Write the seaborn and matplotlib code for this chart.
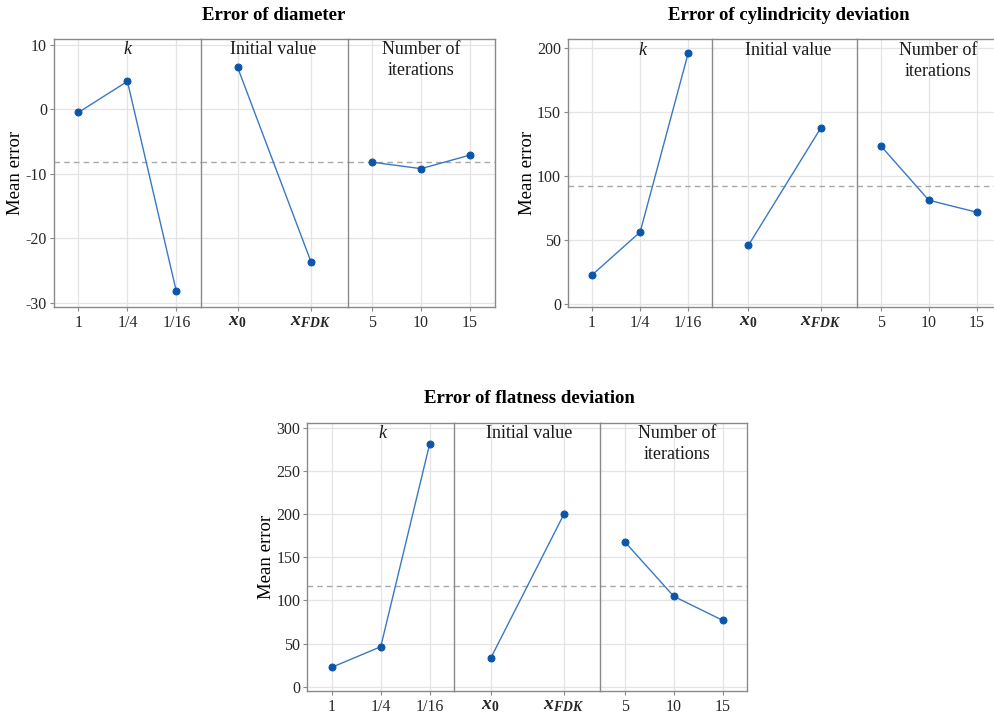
import matplotlib
matplotlib.use("Agg")
import matplotlib.pyplot as plt
import seaborn as sns
import pandas as pd

# ---------------- data ----------------
k_levels = ["1", "1/4", "1/16"]
init_levels = [r"$\mathbfit{x}_{\mathbf{0}}$", r"$\mathbfit{x}_{\mathbfit{FDK}}$"]
iter_levels = ["5", "10", "15"]
facet_titles = ["$k$", "Initial value", "Number of\niterations"]

diam_k = [-0.5, 4.3, -28.2]
diam_init = [6.5, -23.6]
diam_iter = [-8.2, -9.2, -7.1]
diam_mean = -8.2

cyl_k = [22.4, 56.0, 196.0]
cyl_init = [45.6, 137.0]
cyl_iter = [123.4, 80.8, 71.4]
cyl_mean = 92.2

flat_k = [22.5, 46.3, 280.8]
flat_init = [32.8, 199.7]
flat_iter = [167.6, 104.7, 76.9]
flat_mean = 116.3

diam_ticks = [-30, -20, -10, 0, 10]
cyl_ticks = [0, 50, 100, 150, 200]
flat_ticks = [0, 50, 100, 150, 200, 250, 300]

titles = ["Error of diameter", "Error of cylindricity deviation", "Error of flatness deviation"]

# ---------------- style ----------------
sns.set_theme(style="white")
plt.rcParams["font.family"] = ["Liberation Serif", "DejaVu Serif"]
plt.rcParams["axes.unicode_minus"] = False
plt.rcParams["mathtext.fontset"] = "custom"
plt.rcParams["mathtext.rm"] = "Liberation Serif"
plt.rcParams["mathtext.it"] = "Liberation Serif:italic"
plt.rcParams["mathtext.bf"] = "Liberation Serif:bold"
plt.rcParams["mathtext.bfit"] = "Liberation Serif:italic:bold"

W, H = 995, 717
fig = plt.figure(figsize=(W / 100, H / 100), dpi=100)

LINE_C = "#3a78c4"
MARK_C = "#0a56a8"
FRAME_C = "#8a8a8a"
GRID_C = "#e4e4e4"
TEXT_C = "#262626"


def draw_chart(left, right, top, bottom, groups, mean, yticks, ylim, title,
               title_x, title_y, ylab_x, label_dx, show_right=True):
    n = len(groups)
    fw = (right - left) / n
    axes = []
    for i, (levels, vals) in enumerate(groups):
        x0 = left + i * fw
        ax = fig.add_axes([x0 / W, (H - bottom) / H, fw / W, (bottom - top) / H])
        df = pd.DataFrame({"level": levels, "value": vals})
        sns.pointplot(data=df, x="level", y="value", order=levels, errorbar=None,
                      color=LINE_C, markers="o", linestyles="-", ax=ax,
                      markersize=5, linewidth=1.0,
                      markerfacecolor=MARK_C, markeredgecolor=MARK_C)
        ax.axhline(mean, color="#a8a8a8", lw=1.0, ls=(0, (4, 3)), zorder=1)
        ax.set_xlim(-0.5, len(levels) - 0.5)
        ax.set_ylim(*ylim)
        ax.set_yticks(yticks)
        ax.set_xticks(range(len(levels)))
        is_math = levels[0].startswith("$")
        ax.set_xticklabels(levels, fontsize=14 if is_math else 11.5, color=TEXT_C)
        ax.grid(True, color=GRID_C, lw=0.9)
        ax.set_axisbelow(True)
        ax.set_xlabel("")
        ax.set_ylabel("")
        for s in ax.spines.values():
            s.set_color(FRAME_C)
            s.set_linewidth(1.0)
        ax.spines["right"].set_visible(i == n - 1 and show_right)
        ax.tick_params(axis="x", length=3, width=0.8, color=FRAME_C,
                       pad=1.5 if is_math else 3, bottom=True)
        if i == 0:
            ax.tick_params(axis="y", length=3, width=0.8, color=FRAME_C, pad=2,
                           left=True, labelsize=11.5, labelcolor=TEXT_C)
        else:
            ax.tick_params(axis="y", left=False, labelleft=False)
        ax.annotate(facet_titles[i], xy=(0.5, 1.0), xycoords="axes fraction",
                    xytext=(label_dx[i] * 0.72, -2), textcoords="offset points",
                    ha="center", va="top", fontsize=13, color="#1a1a1a",
                    linespacing=1.3)
        axes.append(ax)
    fig.text(title_x / W, 1 - title_y / H, title, ha="center", va="center",
             fontsize=13.5, fontweight="bold", color="black")
    fig.text(ylab_x / W, 1 - ((top + bottom) / 2) / H, "Mean error", rotation=90,
             ha="center", va="center", fontsize=13.5, color="black")
    return axes


draw_chart(54, 494.5, 38.7, 307,
           [(k_levels, diam_k), (init_levels, diam_init), (iter_levels, diam_iter)],
           diam_mean, diam_ticks, (-30.6, 10.9), titles[0], 274, 16, 16,
           [0.5, -1, 0])

draw_chart(568, 1001, 39, 307,
           [(k_levels, cyl_k), (init_levels, cyl_init), (iter_levels, cyl_iter)],
           cyl_mean, cyl_ticks, (-2.6, 206.8), titles[1], 789, 16, 527,
           [3, 3.5, 9], show_right=False)

draw_chart(307.5, 747, 422.7, 691,
           [(k_levels, flat_k), (init_levels, flat_init), (iter_levels, flat_iter)],
           flat_mean, flat_ticks, (-5.0, 305.8), titles[2], 529, 399, 267,
           [2, 1.5, 3.5])

fig.savefig("out.png", dpi=100, facecolor="white")
